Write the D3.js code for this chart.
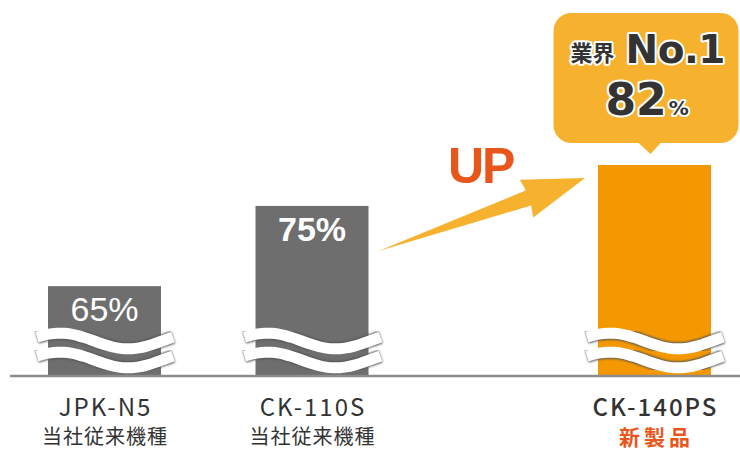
<!DOCTYPE html>
<html>
<head>
<meta charset="utf-8">
<script src="https://cdn.jsdelivr.net/npm/d3@7"></script>
<style>
  body { margin: 0; background: #fff; }
  svg { display: block; }
</style>
</head>
<body>
<svg id="chart" width="740" height="451"></svg>
<script>
// data
const models = ["JPK-N5", "CK-110S", "CK-140PS"];
const subLabels = ["当社従来機種", "当社従来機種", "新製品"];
const rates = [65, 75, 82];
const badgeTop = "業界";
const badgeRank = "No.1";

const width = 740;
const height = 451;
const baseY = 375;
const barW = 113;
const breakAt = 60.5;   // value hidden under the wave break

const GREY = "#6e6e6e";
const ORANGE = "#f39800";
const GOLD = "#f6b22e";
const RED = "#e9561b";
const DARK = "#333";

const svg = d3.select("#chart");

// defs: soft shadow for the wave breaks
const defs = svg.append("defs");
defs.append("filter").attr("id", "soft")
    .append("feGaussianBlur").attr("stdDeviation", 0.8);

// x: the new product sits further right, away from the old models
const x = d3.scaleOrdinal()
            .domain(models)
            .range([104.5, 312, 654.5]);

// broken axis -> compressed pow scale over the part above the break
const yPow = d3.scalePow()
               .exponent(0.55)
               .domain([0, 82 - breakAt])
               .range([baseY, 165]);
const y = v => yPow(v - breakAt);

const bars = svg.append("g");

bars.selectAll("rect")
    .data(models)
    .enter()
    .append("rect")
    .attr("x", d => x(d) - barW / 2)
    .attr("y", (d, i) => y(rates[i]))
    .attr("width", barW)
    .attr("height", (d, i) => baseY - y(rates[i]))
    .attr("fill", (d, i) => i === 2 ? ORANGE : GREY);

// value labels inside the grey bars
bars.selectAll("text.val")
    .data(models.slice(0, 2))
    .enter()
    .append("text")
    .attr("class", "val")
    .attr("x", d => x(d))
    .attr("y", (d, i) => y(rates[i]) + 35)
    .attr("text-anchor", "middle")
    .attr("fill", "#fff")
    .attr("font-family", "Liberation Sans, Arial, sans-serif")
    .attr("font-weight", (d, i) => i === 1 ? "bold" : "normal")
    .attr("font-size", 34)
    .text((d, i) => rates[i] + "%");

// wave break marks
const waveLine = d3.line().curve(d3.curveBasis);
function wave(cx, cy) {
    const x0 = cx - barW / 2 - 11, x1 = cx + barW / 2 + 12;
    const pts = d3.range(0, 1.0001, 0.05).map(t =>
        [x0 + (x1 - x0) * t, cy - 8 * Math.cos(2 * Math.PI * (t - 0.17))]);
    return waveLine(pts);
}

const breaks = svg.append("g");
models.forEach(m => {
    [baseY - 34, baseY - 15].forEach(cy => {
        breaks.append("path")
              .attr("d", wave(x(m), cy))
              .attr("fill", "none")
              .attr("stroke", "#555")
              .attr("stroke-width", 13)
              .attr("filter", "url(#soft)");
        breaks.append("path")
              .attr("d", wave(x(m), cy))
              .attr("fill", "none")
              .attr("stroke", "#fff")
              .attr("stroke-width", 11);
    });
});

// baseline
svg.append("line")
   .attr("x1", 10).attr("x2", width)
   .attr("y1", baseY + 1).attr("y2", baseY + 1)
   .attr("stroke", "#8c8c8c")
   .attr("stroke-width", 2.5);

// category labels
const labels = svg.append("g")
                  .attr("text-anchor", "middle")
                  .attr("font-family", "Noto Sans CJK JP, sans-serif");

labels.selectAll("text.model")
      .data(models)
      .enter()
      .append("text")
      .attr("class", "model")
      .attr("x", d => x(d) + 1)
      .attr("y", 416)
      .attr("font-size", 24)
      .attr("letter-spacing", 2)
      .attr("font-weight", (d, i) => i === 2 ? 500 : 400)
      .attr("fill", DARK)
      .text(d => d);

labels.selectAll("text.sub")
      .data(subLabels)
      .enter()
      .append("text")
      .attr("class", "sub")
      .attr("x", (d, i) => x(models[i]) + (i === 2 ? 2 : 0.5))
      .attr("y", (d, i) => i === 2 ? 445 : 444)
      .attr("font-size", (d, i) => i === 2 ? 21 : 20)
      .attr("letter-spacing", (d, i) => i === 2 ? 4 : 1)
      .attr("font-weight", (d, i) => i === 2 ? "bold" : 400)
      .attr("fill", (d, i) => i === 2 ? RED : DARK)
      .text(d => d);

// UP arrow between bar 2 and bar 3
const tail = [x(models[1]) + barW / 2 + 10, y(rates[1]) + 45];
const tip = [x(models[2]) - barW / 2 - 13, y(rates[2]) + 13];
const dx = tip[0] - tail[0], dy = tip[1] - tail[1];
const len = Math.hypot(dx, dy);
const u = [dx / len, dy / len], n = [-u[1], u[0]];
const at = (a, p) => [tip[0] + u[0] * a + n[0] * p, tip[1] + u[1] * a + n[1] * p];

svg.append("path")
   .attr("d", d3.line()([tail, at(-60, -8), at(-62, -20), tip, at(-62, 20), at(-60, 8)]) + "Z")
   .attr("fill", GOLD);

svg.append("text")
   .attr("x", tip[0] - 137)
   .attr("y", tip[1] + 5)
   .attr("font-family", "Liberation Sans, Arial, sans-serif")
   .attr("font-weight", "bold")
   .attr("font-size", 50)
   .attr("letter-spacing", -2)
   .attr("fill", RED)
   .text("UP");

// speech bubble above the new product
const bx = x(models[2]) - 101, bw = 185;
const bBottom = y(rates[2]) - 22, bh = 130;
const bubble = svg.append("g");
bubble.append("rect")
      .attr("x", bx).attr("y", bBottom - bh)
      .attr("width", bw).attr("height", bh)
      .attr("rx", 18)
      .attr("fill", GOLD);
bubble.append("path")
      .attr("d", d3.line()([[x(models[2]) - 17, bBottom - 1], [x(models[2]) + 7, bBottom - 1], [x(models[2]) - 4, bBottom + 11]]) + "Z")
      .attr("fill", GOLD);

const outlined = sel => sel.attr("fill", DARK)
                           .attr("stroke", "#fff")
                           .attr("stroke-width", 4)
                           .attr("stroke-linejoin", "round")
                           .attr("paint-order", "stroke");

bubble.append("text")
      .attr("x", bx + 17).attr("y", bBottom - bh + 48)
      .attr("font-family", "Noto Sans CJK JP, sans-serif")
      .attr("font-weight", "bold")
      .attr("font-size", 22)
      .text(badgeTop)
      .call(outlined);

bubble.append("text")
      .attr("x", bx + 72).attr("y", bBottom - bh + 50)
      .attr("font-family", "DejaVu Sans, sans-serif")
      .attr("font-weight", "bold")
      .attr("font-size", 39)
      .attr("letter-spacing", -0.5)
      .text(badgeRank)
      .call(outlined);

const pct = bubble.append("text")
      .attr("x", bx + 52).attr("y", bBottom - bh + 102)
      .attr("font-family", "DejaVu Sans, sans-serif")
      .attr("font-weight", "bold")
      .call(outlined);
pct.append("tspan").attr("font-size", 44).text(rates[2]);
pct.append("tspan").attr("font-size", 20).attr("dx", 2).text("%");
</script>
</body>
</html>
